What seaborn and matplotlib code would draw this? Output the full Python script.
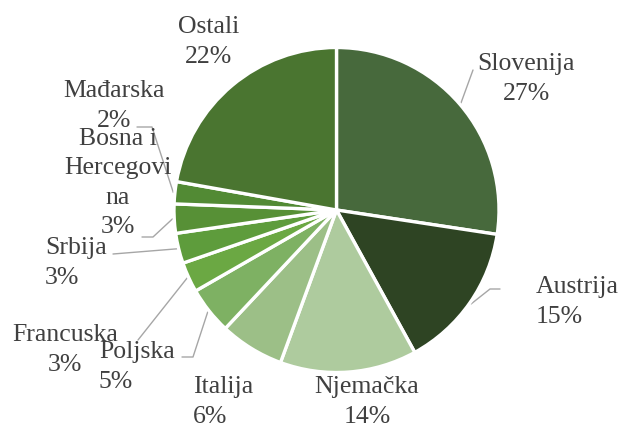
import matplotlib
matplotlib.use("Agg")
import matplotlib.pyplot as plt
import seaborn as sns
import numpy as np

# share of each country (percent)
countries = ["Slovenija", "Austrija", "Njemačka", "Italija", "Poljska",
             "Francuska", "Srbija", "Bosna i Hercegovina", "Mađarska", "Ostali"]
shares = [27.4, 14.6, 13.6, 6.4, 4.7, 3.0, 3.0, 2.9, 2.2, 22.2]
# how the names are wrapped in the chart
label_names = ["Slovenija", "Austrija", "Njemačka", "Italija", "Poljska",
               "Francuska", "Srbija", "Bosna i\nHercegovi\nna", "Mađarska", "Ostali"]
colors = ["#47693C", "#2E4423", "#AECB9E", "#9CBF87", "#7EB163",
          "#6BA843", "#5E9C3C", "#579036", "#528A34", "#4A7530"]

sns.set_theme(style="white")
plt.rcParams["font.family"] = ["Liberation Serif", "DejaVu Serif"]

W, H = 620, 428
CX, CY, R = 336.5, 210.0, 162.5


def px(x, y):
    # pixel position (from top-left) -> data coords of the pie axes
    return (x - CX) / R, (CY - y) / R


# label layout in pixels: block centre (or left edge) and alignment
label_pos = {
    "Slovenija": (526, 79, "center"),
    "Austrija": (536, 302, "left"),
    "Njemačka": (367, 402, "center"),
    "Italija": (193, 402, "left"),
    "Poljska": (99, 367, "left"),
    "Francuska": (65, 350, "center"),
    "Srbija": (45, 263, "left"),
    "Bosna i Hercegovina": (118, 183, "center"),
    "Mađarska": (114, 106, "center"),
    "Ostali": (209, 42, "center"),
}
# leader lines: points on the label side (pixels)
leaders = {
    "Slovenija": [(473, 70)],
    "Austrija": [(490, 289), (500, 289)],
    "Poljska": [(193, 357), (182, 357)],
    "Francuska": [(138, 340)],
    "Srbija": [(113, 254)],
    "Bosna i Hercegovina": [(153, 237), (142, 237)],
    "Mađarska": [(152, 127), (137, 127)],
}

fig = plt.figure(figsize=(W / 100, H / 100), dpi=100)
ax = fig.add_axes([0, 0, 1, 1])
wedges, _ = ax.pie(shares, colors=colors, startangle=90, counterclock=False,
                   radius=1, center=(0, 0),
                   wedgeprops=dict(edgecolor="white", linewidth=2.4))
ax.set_xlim(-CX / R, (W - CX) / R)
ax.set_ylim((CY - H) / R, CY / R)
ax.set_aspect("equal")
ax.axis("off")

for w, name, lname, v in zip(wedges, countries, label_names, shares):
    x, y, ha = label_pos[name]
    tx, ty = px(x, y)
    ax.text(tx, ty, f"{lname}\n{round(v)}%", ha=ha, va="center",
            multialignment=ha, fontsize=18.5, color="#404040", linespacing=1.42)
    if name in leaders:
        ang = np.deg2rad((w.theta1 + w.theta2) / 2)
        pts = [(1.01 * np.cos(ang), 1.01 * np.sin(ang))] + [px(*p) for p in leaders[name]]
        xs, ys = zip(*pts)
        ax.plot(xs, ys, color="#A6A6A6", lw=1.0, zorder=0)

fig.savefig("out.png", dpi=100)
